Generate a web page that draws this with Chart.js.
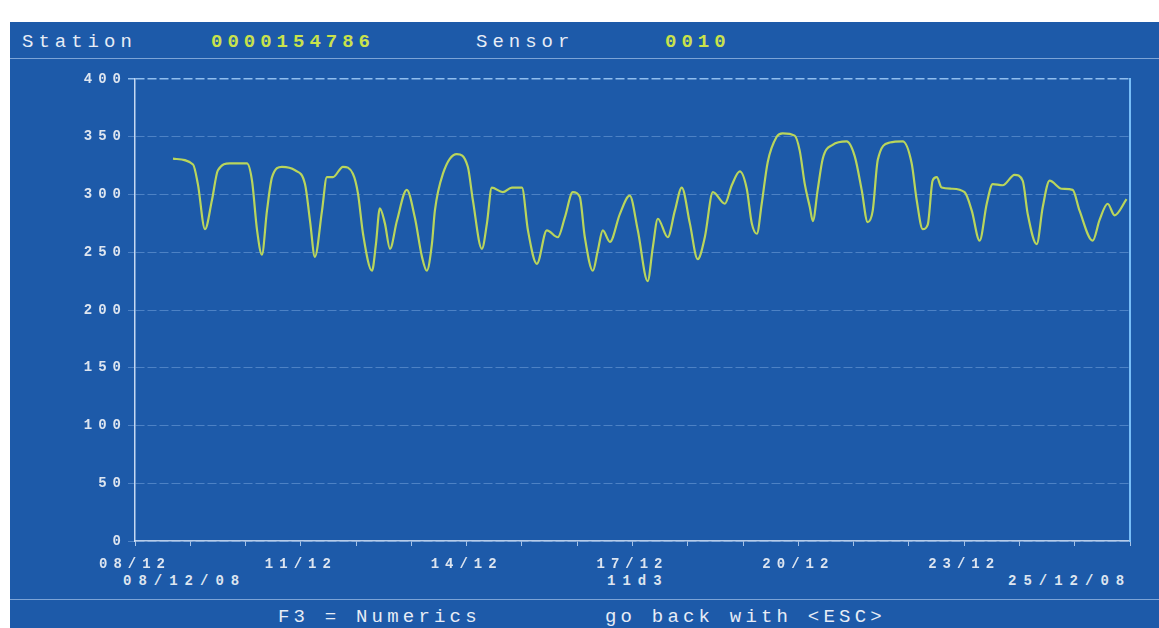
<!DOCTYPE html>
<html>
<head>
<meta charset="utf-8">
<script src="https://cdn.jsdelivr.net/npm/chart.js@4/dist/chart.umd.min.js"></script>
<style>
  html, body { margin: 0; padding: 0; background: #fff; }
  body { width: 1159px; height: 628px; position: relative; overflow: hidden; font-family: "Liberation Mono", monospace; }
  #panel { position: absolute; left: 10px; top: 22px; right: 0; bottom: 0; background: #1d5aa9; }
  .sep { position: absolute; left: 10px; right: 0; height: 1px; background: rgba(175, 205, 240, 0.65); }
  .txt { position: absolute; white-space: pre; color: #e6ecf6; }
  .hdr { font-size: 19px; letter-spacing: 5px; top: 31px; }
  .val { color: #c9e24c; font-weight: bold; }
  .sub { font-size: 14px; font-weight: bold; letter-spacing: 7px; top: 573px; color: #dde5f0; }
  .ftr { font-size: 19px; letter-spacing: 4.2px; top: 606px; }
  #wrap { position: absolute; left: 0; top: 60px; width: 1159px; height: 538px; }
</style>
</head>
<body>
<div id="panel"></div>
<div class="sep" style="top:58px"></div>
<div class="sep" style="top:599px"></div>

<div class="txt hdr" style="left:22px">Station</div>
<div class="txt hdr val" style="left:211px">0000154786</div>
<div class="txt hdr" style="left:476px">Sensor</div>
<div class="txt hdr val" style="left:665px">0010</div>

<div class="txt sub" style="left:123px">08/12/08</div>
<div class="txt sub" style="left:607px">11d3</div>
<div class="txt sub" style="left:1008px">25/12/08</div>

<div class="txt ftr" style="left:278px">F3 = Numerics</div>
<div class="txt ftr" style="left:605px">go back with &lt;ESC&gt;</div>

<div id="wrap"><canvas id="chart" width="1159" height="538"></canvas></div>

<script>
// hours since 08/12 00:00
const hours = [
  16.5, 25.2, 27.3, 30.4, 33.4, 36.0, 41.2, 48.6, 50.8, 53.0, 55.1, 57.3, 59.5, 63.8,
  69.4, 73.8, 76.0, 78.1, 81.2, 83.3, 85.9, 90.3, 94.6, 96.8, 99.0, 102.9, 104.6, 106.3,
  108.5, 110.7, 113.7, 118.0, 121.5, 124.6, 126.7, 128.9, 130.2, 133.7, 139.7, 144.5,
  146.7, 150.6, 152.8, 154.9, 159.7, 163.6, 168.0, 170.6, 174.5, 178.8, 183.6, 186.6,
  190.1, 193.1, 195.3, 198.8, 200.9, 203.1, 206.2, 210.5, 214.8, 218.3, 222.6, 224.8,
  227.0, 231.3, 234.4, 237.4, 240.9, 244.3, 247.4, 250.9, 256.1, 259.1, 262.6, 265.6,
  267.8, 270.0, 272.1, 274.7, 278.6, 281.2, 286.4, 288.6, 290.8, 293.0, 294.3, 296.4,
  298.6, 302.9, 309.0, 312.5, 315.5, 318.1, 320.3, 322.5, 327.7, 333.3, 337.2, 339.4,
  342.0, 344.2, 346.3, 348.1, 350.2, 354.6, 360.2, 363.3, 366.7, 369.8, 372.4, 376.7,
  381.9, 385.4, 387.6, 391.5, 394.1, 397.1, 402.3, 407.1, 410.1, 415.8, 418.8, 422.3,
  425.3, 430.5
];
const sensorValues = [
  331, 326, 309, 270, 295, 321, 327, 327, 312, 269, 248, 286, 315, 324,
  321, 309, 277, 246, 286, 315, 315, 324, 318, 301, 266, 234, 257, 288,
  275, 253, 277, 304, 280, 246, 234, 257, 286, 318, 335, 324,
  295, 253, 275, 306, 302, 306, 306, 269, 240, 269, 263, 280,
  302, 298, 263, 234, 251, 269, 259, 283, 299, 269, 225, 254,
  279, 263, 286, 306, 275, 244, 263, 302, 292, 308, 320, 305,
  275, 266, 292, 328, 350, 353, 351, 338, 309, 289, 277, 304,
  331, 343, 346, 333, 304, 276, 286, 330, 345, 346, 327, 295,
  270, 274, 312, 315, 306, 305, 302, 286, 260, 292, 309, 308,
  317, 312, 283, 257, 289, 312, 305, 304, 286, 260, 278, 292,
  282, 296
];
const dayLabels = ['08/12', '11/12', '14/12', '17/12', '20/12', '23/12'];
const yTicks = [0, 50, 100, 150, 200, 250, 300, 350, 400];

const points = hours.map((h, i) => ({ x: h, y: sensorValues[i] }));

const spacing = {
  id: 'spacing',
  beforeUpdate(c) { c.ctx.letterSpacing = '6px'; },
  beforeDraw(c) { c.ctx.letterSpacing = '6px'; }
};

const tickFont = { family: 'Liberation Mono', size: 14, weight: 'bold' };

new Chart(document.getElementById('chart').getContext('2d'), {
  type: 'line',
  data: {
    datasets: [{
      data: points,
      borderColor: '#b9d55c',
      borderWidth: 2.2,
      pointRadius: 0,
      cubicInterpolationMode: 'monotone',
      fill: false
    }]
  },
  options: {
    responsive: false,
    animation: false,
    layout: { padding: { top: 19, right: 29, left: 0, bottom: 0 } },
    plugins: { legend: { display: false }, tooltip: { enabled: false } },
    scales: {
      x: {
        type: 'linear',
        min: 0,
        max: 432,
        afterFit: s => { s.height = 57; },
        ticks: {
          stepSize: 24,
          autoSkip: false,
          maxRotation: 0,
          padding: 10,
          color: '#dde5f0',
          font: tickFont,
          callback: v => (v % 72 === 0 && dayLabels[v / 72]) ? dayLabels[v / 72] : ''
        },
        grid: {
          drawOnChartArea: false,
          tickLength: 5,
          color: 'rgba(200, 220, 245, 0.8)'
        },
        border: { color: 'rgba(210, 225, 245, 0.85)', width: 1.5 }
      },
      y: {
        min: 0,
        max: 400,
        afterFit: s => { s.width = 135; },
        afterBuildTicks: s => { s.ticks = yTicks.map(v => ({ value: v })); },
        ticks: {
          padding: 1,
          color: '#dde5f0',
          font: tickFont
        },
        grid: {
          tickLength: 7,
          color: ctx => ctx.tick && ctx.tick.value === 400 ? 'rgba(175, 215, 255, 0.8)' : 'rgba(150, 190, 240, 0.4)',
          lineWidth: ctx => ctx.tick && ctx.tick.value === 400 ? 1.5 : 1
        },
        border: { color: 'rgba(215, 230, 250, 0.9)', width: 1.5, dash: [9, 3] }
      },
      y2: {
        position: 'right',
        min: 0,
        max: 400,
        afterFit: s => { s.width = 0; },
        ticks: { display: false },
        grid: { drawOnChartArea: false, drawTicks: false },
        border: { color: 'rgba(130, 200, 255, 0.9)', width: 2 }
      }
    }
  },
  plugins: [spacing]
});
</script>
</body>
</html>
